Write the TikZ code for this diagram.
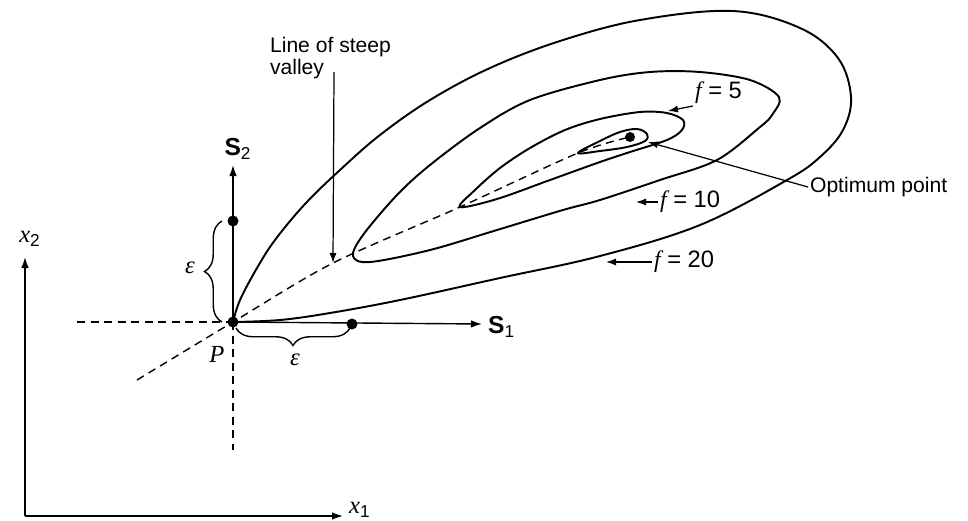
\documentclass[tikz,border=0pt]{standalone}
\usepackage{fontspec}
\setmainfont{Liberation Sans}
\newfontfamily\seriffont{Liberation Serif}
\newcommand\mv[1]{{\seriffont\itshape #1}}
\usetikzlibrary{arrows.meta,decorations.pathreplacing}

\begin{document}
\begin{tikzpicture}[x=0.2mm, y=-0.2mm,
  curve/.style={line width=1.1pt, line join=round},
  ax/.style={line width=0.8pt, -{Latex[length=2.2mm,width=1.5mm]}},
  arr/.style={line width=0.7pt, -{Latex[length=2mm,width=1.4mm]}},
  dsh/.style={line width=0.8pt, dash pattern=on 1.6mm off 1.1mm},
  dot/.style={circle, fill, inner sep=0pt, minimum size=2.2mm},
  lbl/.style={inner sep=1pt, font=\fontsize{12}{13}\selectfont},
  flbl/.style={inner sep=1pt, font=\fontsize{13.5}{15}\selectfont},
  vec/.style={inner sep=1pt, font=\fontsize{14}{16}\selectfont},
  brc/.style={decorate, decoration={brace, amplitude=3.5mm}, line width=0.8pt}
]
\useasboundingbox (0,0) rectangle (968,520);
\coordinate (O) at (25,516);
\coordinate (x1end) at (343,516);
\coordinate (x2end) at (25,257);
\draw[ax] (O) -- (x1end);
\draw[ax] (O) -- (x2end);
\node[vec, anchor=west] (x1) at (347,510) {\mv{x}\textsubscript{1}};
\node[vec] (x2) at (30,239) {\mv{x}\textsubscript{2}};
\draw[curve] plot[smooth, tension=0.6] coordinates {(233,322) (240,300) (257,268) (275,240) (305,204) (340,170) (380,135) (430,100) (490,68) (560,41) (640,20) (733,11) (800,28) (838,58) (851,97) (843,130) (820,157) (787,180) (700,225) (600,256) (500,278) (400,300) (330,313) (280,320) (233,322)};
\draw[curve] plot[smooth cycle, tension=0.55] coordinates {(353,256) (363,235) (397,195) (430,165) (480,128) (530,100) (600,80) (650,72) (700,72) (750,80) (779,97) (772,115) (760,127) (717,160) (660,180) (600,200) (563,210) (497,230) (430,250) (370,262)};
\draw[curve] plot[smooth cycle, tension=0.55] coordinates {(460,207) (475,190) (500,168) (530,148) (565,130) (600,119) (640,112) (667,113) (683,120) (682,130) (667,140) (630,152) (600,162) (550,180) (497,199)};
\draw[curve] plot[smooth cycle, tension=0.6] coordinates {(578,153) (600,141) (620,132) (637,129) (647,134) (645,141) (627,147) (600,151)};
\draw[dsh] plot[smooth, tension=0.5] coordinates {(137,380) (233,322) (333,263) (460,207) (578,153) (630,137)};
\node[dot] (P) at (233,322) {};
\node[dot] (e2) at (233,221) {};
\node[dot] (e1) at (352,324) {};
\node[dot, minimum size=2mm] (opt) at (630,137) {};
\coordinate (hl) at (77,322);
\coordinate (vl) at (233,450);
\draw[dsh] (hl) -- (P.center);
\draw[dsh] (P.center) -- (vl);
\coordinate (s2end) at (233,165);
\coordinate (s1end) at (482,324);
\draw[ax] (P.center) -- (s2end);
\draw[ax] (P.center) -- (s1end);
\node[vec] (s2) at (238,149) {\textbf{S}\textsubscript{2}};
\node[vec, anchor=west] (s1) at (486,327) {\textbf{S}\textsubscript{1}};
\draw[brc] (222,322) -- (222,221);
\draw[brc] (350,328) -- (236,328);
\node[vec] (eps2) at (190,268) {\mv{ε}};
\node[vec] (eps1) at (295,360) {\mv{ε}};
\node[vec] (plbl) at (217,354) {\mv{P}};
\node[lbl, anchor=west, align=left] (valley) at (268,58) {Line of steep\\valley};
\coordinate (vtop) at (334,72);
\coordinate (vtip) at (333,263);
\draw[arr] (vtop) -- (vtip);
\node[flbl, anchor=west] (f5) at (693,93) {\mv{f} = 5};
\node[flbl, anchor=west] (f10) at (658,202) {\mv{f} = 10};
\node[flbl, anchor=west] (f20) at (652,262) {\mv{f} = 20};
\node[lbl, anchor=west] (optlbl) at (808,187) {Optimum point};
\coordinate (f5tip) at (668,111);
\coordinate (f10tip) at (636,202);
\coordinate (f20tip) at (606,262);
\coordinate (opttip) at (648,142);
\draw[arr] (f5.south west) -- (f5tip);
\draw[arr] (f10.west) -- (f10tip);
\draw[arr] (f20.west) -- (f20tip);
\draw[arr] (optlbl.west) -- (opttip);
\end{tikzpicture}
\end{document}
